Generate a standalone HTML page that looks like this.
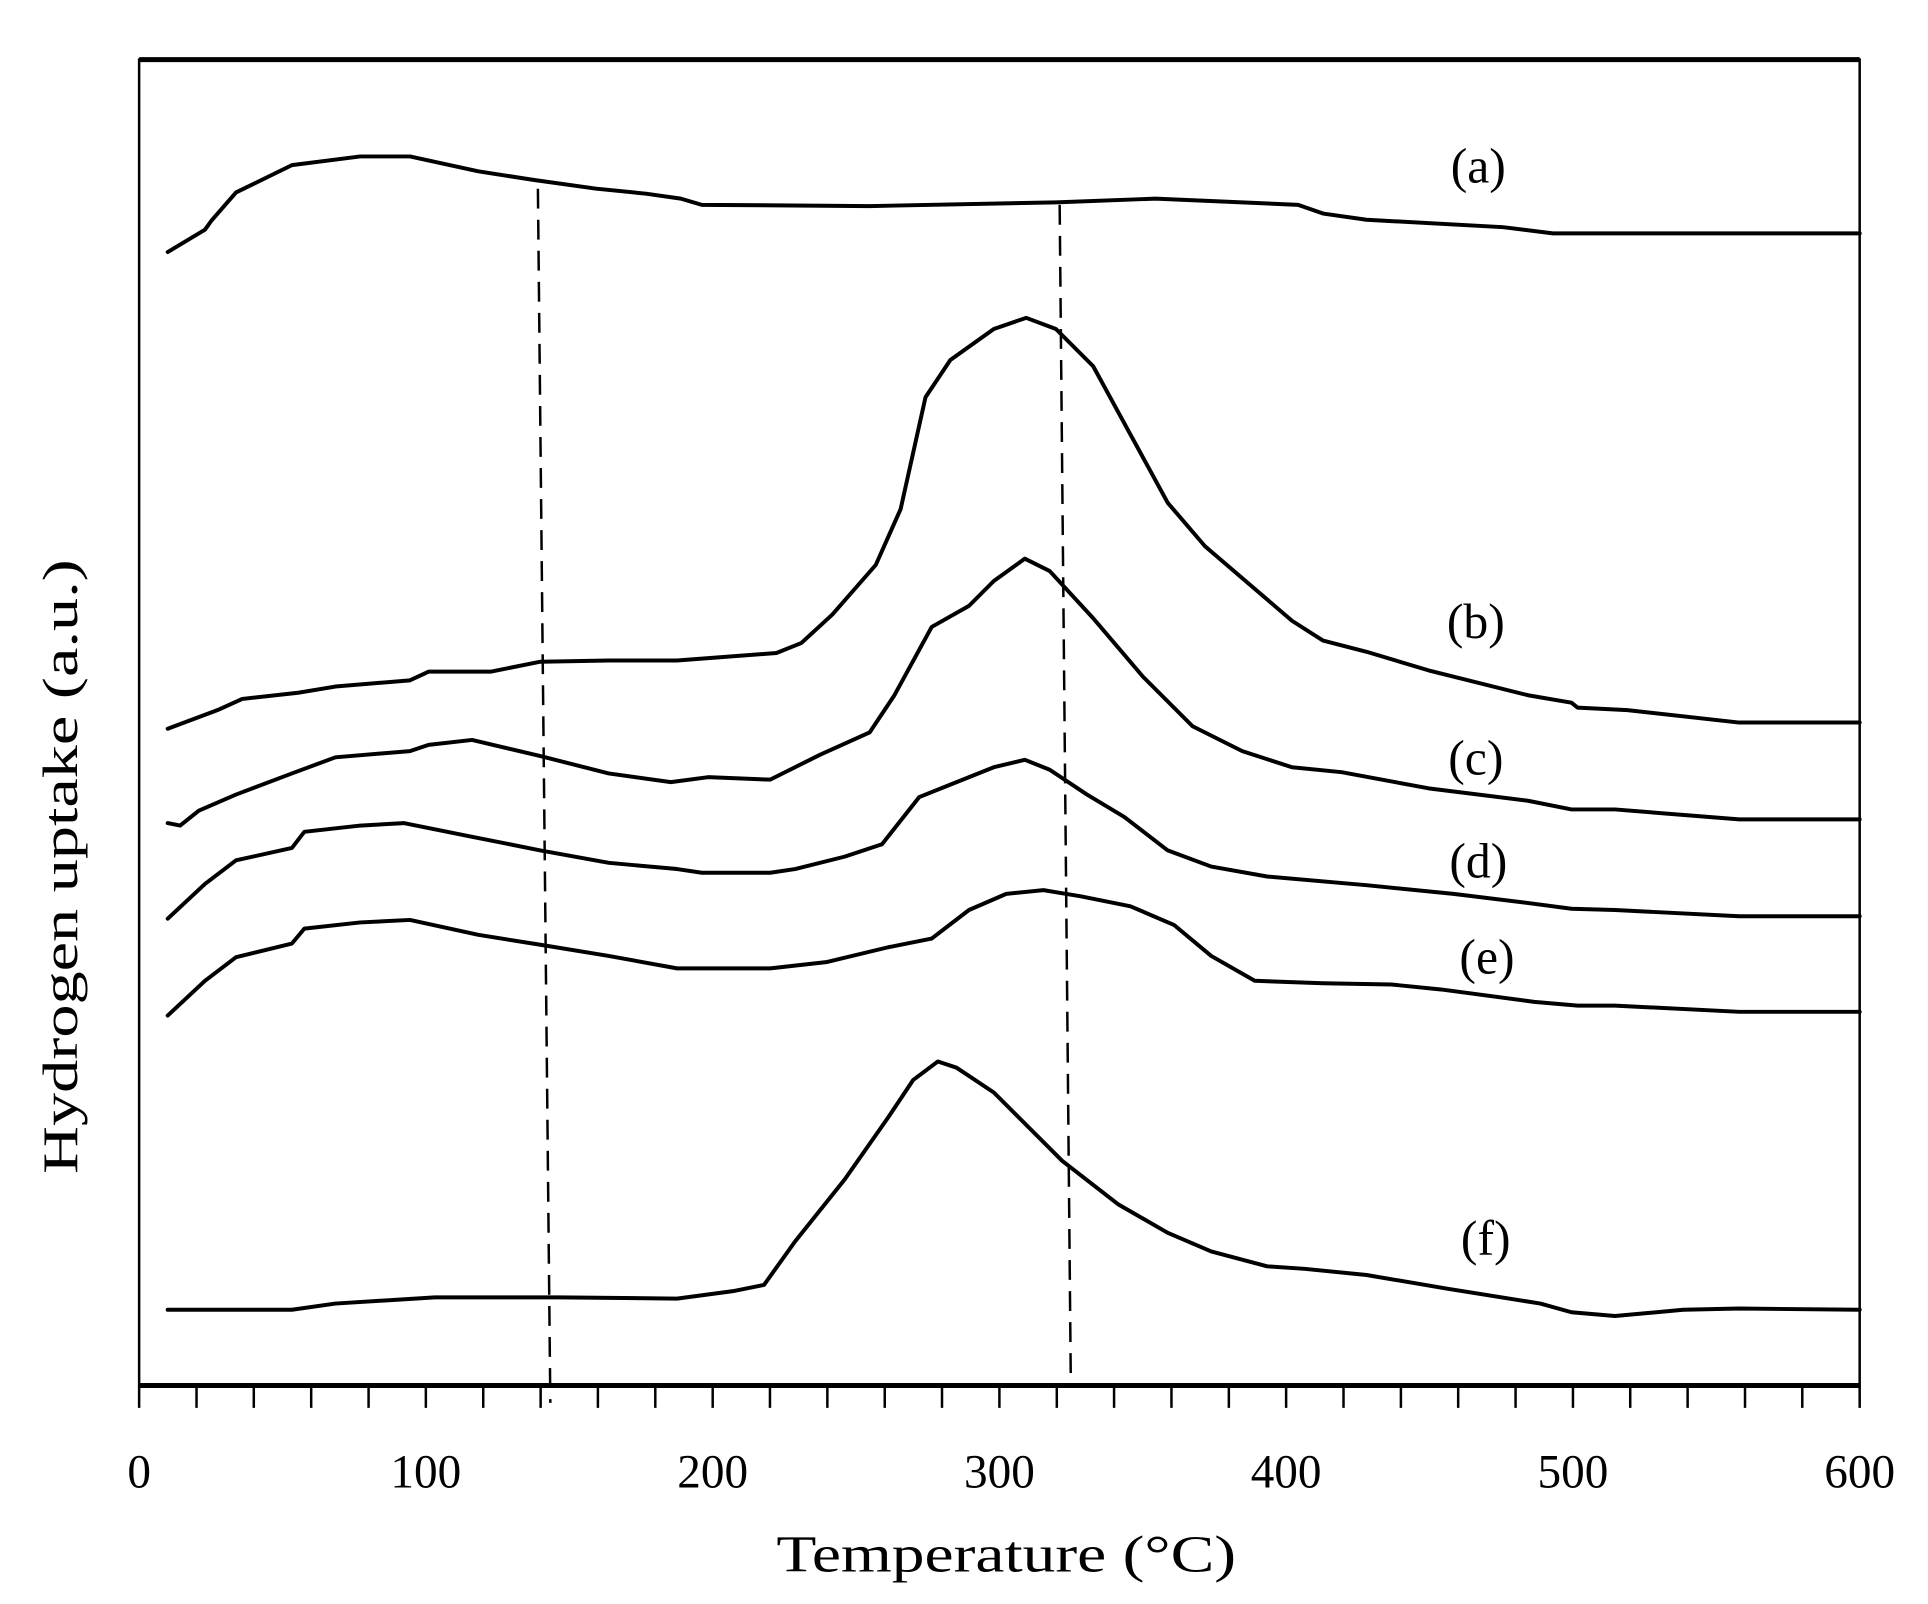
<!DOCTYPE html>
<html><head><meta charset="utf-8"><style>html,body{margin:0;padding:0;background:#fff}svg{display:block}</style></head>
<body>
<svg width="1928" height="1604" viewBox="0 0 1552 1292" preserveAspectRatio="none" xmlns="http://www.w3.org/2000/svg" font-family="Liberation Serif, serif">
<rect x="0" y="0" width="1552" height="1292" fill="#fff"/>
<g fill="none" stroke="#000">
<rect x="112" y="48" width="1385" height="1068" stroke-width="2"/>
<line x1="112" y1="48" x2="1497" y2="48" stroke-width="4"/>
<line x1="112" y1="1116" x2="1497" y2="1116" stroke-width="4"/>
<path id="ticks" stroke-width="2" d="M112,1116v18M158.2,1116v18M204.3,1116v18M250.5,1116v18M296.7,1116v18M342.8,1116v18M389,1116v18M435.2,1116v18M481.3,1116v18M527.5,1116v18M573.7,1116v18M619.8,1116v18M666,1116v18M712.2,1116v18M758.3,1116v18M804.5,1116v18M850.7,1116v18M896.8,1116v18M943,1116v18M989.2,1116v18M1035.3,1116v18M1081.5,1116v18M1127.7,1116v18M1173.8,1116v18M1220,1116v18M1266.2,1116v18M1312.3,1116v18M1358.5,1116v18M1404.7,1116v18M1450.8,1116v18M1497,1116v18"/>
<path stroke-width="2" stroke-dasharray="16,9" d="M433,152 L443,1130"/>
<path stroke-width="2" stroke-dasharray="16,9" d="M853,165 L862,1116"/>
<g stroke-width="3.2" stroke-linejoin="round" stroke-linecap="round">
<polyline points="135,203 165,185 170,178 190,155 235,133 290,126 330,126 385,138 430,145 480,152 520,156 548,160 565,165 700,166 850,163 930,160 1045,165 1065,172 1100,177 1210,183 1250,188 1497,188"/>
<polyline points="135,587 175,572 195,563 240,558 270,553 330,548 345,541 395,541 435,533 490,532 545,532 625,526 645,518 670,495 705,455 725,410 745,320 765,290 800,265 826,256 850,265 880,295 910,350 940,405 970,440 1005,470 1040,500 1065,516 1100,525 1150,540 1230,560 1265,566 1270,570 1310,572 1400,582 1497,582"/>
<polyline points="135,663 145,665 160,653 190,640 235,623 270,610 330,605 345,600 380,596 435,609 490,623 540,630 570,626 620,628 660,608 700,590 720,560 750,505 780,488 800,468 825,450 845,460 880,498 920,545 960,585 1000,605 1040,618 1080,622 1150,635 1230,645 1265,652 1300,652 1400,660 1497,660"/>
<polyline points="135,740 165,712 190,693 235,683 245,670 290,665 325,663 375,673 435,685 490,695 545,700 565,703 620,703 640,700 680,690 710,680 740,642 765,632 800,618 825,612 845,620 875,640 905,658 940,685 975,698 1020,706 1100,713 1170,720 1235,728 1265,732 1300,733 1400,738 1497,738"/>
<polyline points="135,818 165,790 190,771 235,760 245,748 290,743 330,741 385,753 435,761 490,770 545,780 565,780 620,780 665,775 715,763 750,756 780,733 810,720 840,717 870,722 910,730 945,745 975,770 1010,790 1065,792 1120,793 1160,797 1235,807 1270,810 1300,810 1400,815 1497,815"/>
<polyline points="135,1055 235,1055 270,1050 350,1045 450,1045 545,1046 590,1040 615,1035 640,1000 680,950 715,900 735,870 755,855 770,860 800,880 855,935 900,970 940,993 975,1008 1020,1020 1050,1022 1100,1027 1165,1038 1240,1050 1265,1057 1300,1060 1355,1055 1400,1054 1497,1055"/>
</g>
</g>
<g font-size="40" fill="#000" text-anchor="middle">
<text x="1190" y="147">(a)</text>
<text x="1188" y="514">(b)</text>
<text x="1188" y="624">(c)</text>
<text x="1190" y="707">(d)</text>
<text x="1197" y="784">(e)</text>
<text x="1196" y="1011">(f)</text>
</g>
<g font-size="38" fill="#000" text-anchor="middle">
<text x="112" y="1198">0</text>
<text x="342.8" y="1198">100</text>
<text x="573.7" y="1198">200</text>
<text x="804.5" y="1198">300</text>
<text x="1035.3" y="1198">400</text>
<text x="1266.2" y="1198">500</text>
<text x="1497" y="1198">600</text>
<text x="810" y="1266" font-size="42" textLength="370" lengthAdjust="spacingAndGlyphs">Temperature (°C)</text>
<text transform="translate(62,698) rotate(-90)" font-size="40" textLength="495" lengthAdjust="spacingAndGlyphs">Hydrogen uptake (a.u.)</text>
</g>
</svg>
</body></html>
